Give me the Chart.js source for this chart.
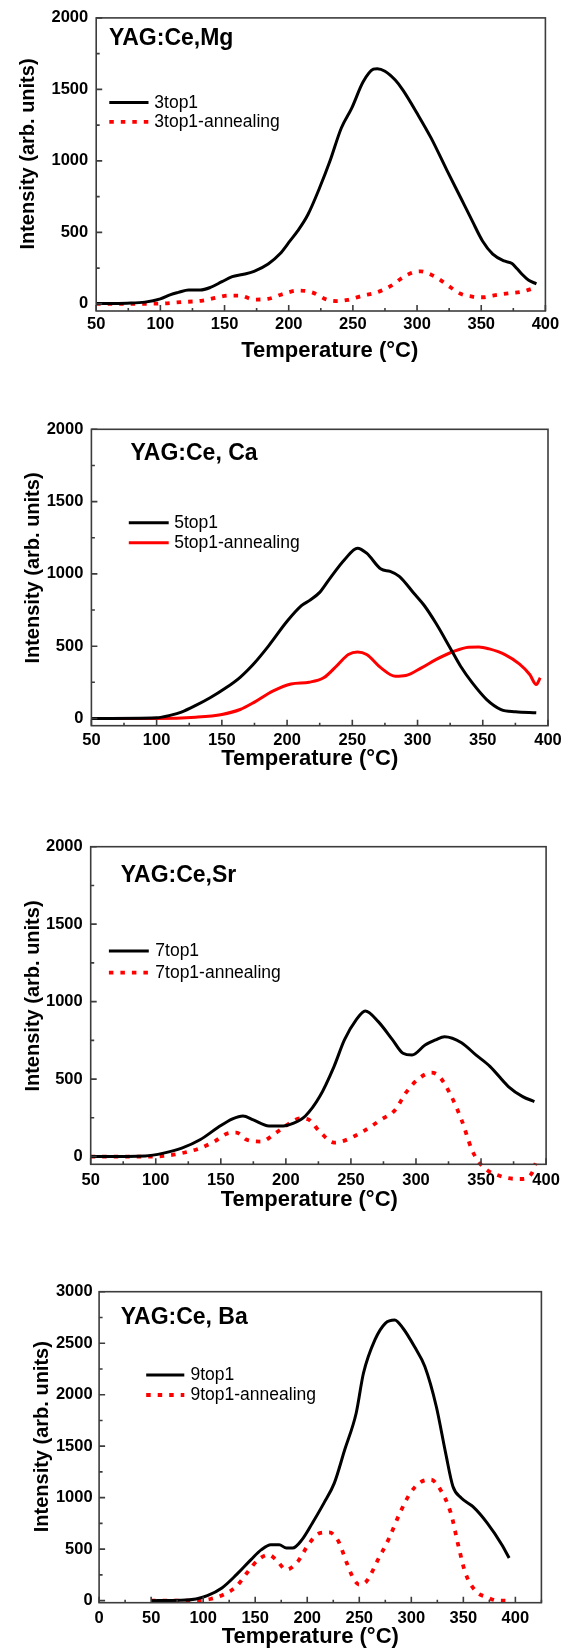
<!DOCTYPE html>
<html><head><meta charset="utf-8">
<script src="https://cdn.jsdelivr.net/npm/chart.js@4.4.1/dist/chart.umd.min.js"></script>
<style>
html,body{margin:0;padding:0;background:#fff;}
body{width:569px;height:1651px;position:relative;overflow:hidden;}
canvas{position:absolute;left:0;}
</style></head><body>
<canvas id="c1" width="569" height="385" style="top:0px;width:569px;height:385px"></canvas>
<canvas id="c2" width="569" height="390" style="top:395px;width:569px;height:390px"></canvas>
<canvas id="c3" width="569" height="420" style="top:810px;width:569px;height:420px"></canvas>
<canvas id="c4" width="569" height="411" style="top:1240px;width:569px;height:411px"></canvas>
<script>
// ---------- text ----------
const xTitleText = 'Temperature (°C)';
const yTitleText = 'Intensity (arb. units)';
const panelLabels = ['YAG:Ce,Mg', 'YAG:Ce, Ca', 'YAG:Ce,Sr', 'YAG:Ce, Ba'];
const seriesNames = [['3top1', '3top1-annealing'], ['5top1', '5top1-annealing'], ['7top1', '7top1-annealing'], ['9top1', '9top1-annealing']];

// ---------- tick values ----------
const xTicksA = [50, 75, 100, 125, 150, 175, 200, 225, 250, 275, 300, 325, 350, 375, 400];
const xTicksB = [0, 25, 50, 75, 100, 125, 150, 175, 200, 225, 250, 275, 300, 325, 350, 375, 400, 425];
const yTicksA = [0, 250, 500, 750, 1000, 1250, 1500, 1750, 2000];
const yTicksB = [0, 250, 500, 750, 1000, 1250, 1500, 1750, 2000, 2250, 2500, 2750, 3000];

// ---------- data: panel 1 (Mg) ----------
const p1BlackT = [50, 60, 74, 88, 100, 108, 114, 122, 131, 139, 148, 156, 164, 173, 184, 193, 201, 207, 215, 224, 232, 241, 249, 258, 266, 269, 275, 283, 289, 300, 311, 323, 334, 343, 351, 359, 368, 374, 378, 382, 387, 393];
const p1BlackI = [3, 3, 5, 12, 35, 65, 80, 97, 97, 115, 155, 190, 205, 227, 278, 348, 440, 510, 625, 810, 995, 1230, 1367, 1553, 1641, 1645, 1627, 1565, 1495, 1333, 1159, 939, 742, 580, 440, 348, 300, 282, 245, 205, 165, 140];
const p1RedT = [50, 74, 100, 116, 133, 145, 153, 162, 173, 184, 196, 207, 218, 230, 238, 246, 258, 269, 280, 289, 297, 303, 311, 317, 326, 334, 343, 351, 359, 371, 382, 393];
const p1RedI = [0, 0, 2, 12, 23, 46, 58, 58, 30, 35, 70, 93, 81, 28, 19, 28, 58, 81, 127, 185, 220, 227, 204, 174, 116, 70, 51, 46, 58, 74, 86, 116];

// ---------- data: panel 2 (Ca) ----------
const p2BlackT = [50, 100, 111, 119, 130, 141, 152, 164, 175, 186, 200, 211, 217, 225, 233, 244, 254, 261, 272, 279, 286, 297, 305, 314, 325, 333, 342, 353, 364, 375, 391];
const p2BlackI = [0, 5, 23, 44, 90, 143, 205, 285, 384, 504, 672, 780, 815, 872, 971, 1098, 1178, 1143, 1033, 1017, 983, 868, 783, 660, 488, 361, 246, 131, 62, 46, 39];
const p2RedT = [50, 100, 130, 150, 164, 175, 189, 203, 217, 228, 239, 247, 254, 261, 272, 283, 291, 303, 314, 328, 339, 347, 355, 367, 378, 386, 391, 394];
const p2RedI = [0, 0, 9, 28, 62, 113, 189, 239, 251, 281, 373, 442, 460, 442, 350, 292, 297, 350, 407, 465, 493, 495, 481, 442, 377, 304, 235, 281];

// ---------- data: panel 3 (Sr) ----------
const p3BlackT = [50, 92, 106, 120, 134, 148, 159, 167, 175, 187, 198, 206, 215, 226, 237, 245, 254, 261, 271, 282, 290, 297, 307, 315, 322, 335, 346, 357, 371, 382, 391];
const p3BlackI = [0, 4, 22, 54, 108, 189, 243, 262, 237, 198, 198, 215, 262, 387, 581, 753, 882, 940, 871, 753, 667, 656, 720, 753, 774, 735, 656, 581, 452, 387, 355];
const p3RedT = [50, 92, 106, 120, 134, 145, 156, 162, 170, 181, 192, 203, 211, 217, 226, 237, 245, 259, 273, 284, 292, 301, 312, 318, 326, 335, 343, 348, 355, 362, 371, 382, 389, 392];
const p3RedI = [0, 0, 4, 22, 54, 97, 151, 155, 108, 97, 151, 215, 247, 241, 161, 90, 103, 161, 237, 301, 409, 495, 542, 516, 409, 237, 43, -32, -90, -118, -140, -145, -108, -43];

// ---------- data: panel 4 (Ba) ----------
const p4BlackT = [50, 79, 93, 104, 118, 132, 146, 156, 165, 173, 180, 186, 195, 205, 216, 226, 236, 247, 254, 265, 275, 284, 292, 303, 313, 324, 333, 340, 348, 359, 373, 387, 394];
const p4BlackI = [0, 3, 16, 48, 123, 252, 398, 495, 543, 543, 511, 511, 592, 754, 947, 1141, 1465, 1820, 2208, 2532, 2693, 2725, 2645, 2467, 2273, 1885, 1432, 1109, 996, 915, 753, 543, 414];
const p4RedT = [50, 86, 107, 121, 132, 142, 153, 163, 170, 180, 191, 201, 212, 221, 230, 238, 245, 250, 257, 268, 278, 289, 299, 310, 319, 327, 338, 345, 352, 362, 373, 383, 394];
const p4RedI = [0, 0, 16, 65, 139, 268, 398, 446, 398, 301, 381, 543, 656, 663, 576, 365, 204, 155, 188, 398, 592, 850, 1044, 1157, 1174, 1093, 850, 543, 268, 91, 32, 0, 0];

// ---------- helpers ----------
const FONT = '"Liberation Sans", Arial, Helvetica, sans-serif';
const pts = (t, v) => t.map((x, i) => ({x: x, y: v[i]}));

const frameTicks = {
  id: 'frameTicks',
  afterDatasetsDraw(chart) {
    const ctx = chart.ctx, a = chart.chartArea;
    const xs = chart.scales.x, ys = chart.scales.y;
    ctx.save();
    ctx.strokeStyle = '#3c3c3c';
    ctx.lineWidth = 1.6;
    ctx.strokeRect(a.left, a.top, a.right - a.left, a.bottom - a.top);
    ctx.beginPath();
    xs.ticks.forEach(t => {
      const p = xs.getPixelForValue(t.value);
      const len = (t.value % 50 === 0) ? 6 : 3;
      ctx.moveTo(p, a.bottom); ctx.lineTo(p, a.bottom - len);
    });
    ys.ticks.forEach(t => {
      const p = ys.getPixelForValue(t.value);
      const len = (t.value % 500 === 0) ? 6 : 3.5;
      ctx.moveTo(a.left, p); ctx.lineTo(a.left + len, p);
    });
    ctx.stroke();
    ctx.restore();
  }
};

const annot = {
  id: 'annot',
  afterDraw(chart, args, o) {
    const ctx = chart.ctx, top = o.top;
    ctx.save();
    ctx.fillStyle = '#000';
    ctx.textBaseline = 'middle';
    ctx.textAlign = 'left';
    ctx.font = 'bold 23px ' + FONT;
    ctx.fillText(o.label, o.labelX, o.labelY - top);
    chart.data.datasets.forEach((ds, i) => {
      const y = o.legY - top + i * o.legDy;
      ctx.save();
      ctx.strokeStyle = ds.borderColor;
      ctx.lineWidth = ds.borderWidth;
      ctx.setLineDash(ds.borderDash || []);
      ctx.beginPath(); ctx.moveTo(o.legX1, y); ctx.lineTo(o.legX2, y); ctx.stroke();
      ctx.restore();
      ctx.font = '17.5px ' + FONT;
      ctx.fillText(ds.label, o.legTx, y + 0.5);
    });
    ctx.textAlign = 'center';
    ctx.font = 'bold 22px ' + FONT;
    ctx.fillText(xTitleText, o.xtX, o.xtY - top);
    ctx.translate(o.ytX, o.ytY - top);
    ctx.rotate(-Math.PI / 2);
    ctx.font = 'bold 20px ' + FONT;
    ctx.fillText(yTitleText, 0, 0);
    ctx.restore();
  }
};

function makeChart(id, L, datasets, xr, yr, xTickVals, yTickVals) {
  const canvas = document.getElementById(id);
  const H = canvas.height;
  return new Chart(canvas, {
    type: 'line',
    data: {datasets: datasets},
    plugins: [frameTicks, annot],
    options: {
      responsive: false,
      animation: false,
      events: [],
      layout: {padding: {left: 0, top: L.plotTop - L.top, right: 569 - L.plotRight, bottom: 0}},
      elements: {point: {radius: 0}, line: {cubicInterpolationMode: 'monotone', borderCapStyle: 'butt'}},
      scales: {
        x: {
          type: 'linear', min: xr[0], max: xr[1],
          afterBuildTicks: s => { s.ticks = xTickVals.map(v => ({value: v})); },
          afterFit: s => { s.height = H - (L.plotBottom - L.top); },
          grid: {display: false, drawTicks: false},
          border: {display: false},
          ticks: {
            autoSkip: false, maxRotation: 0, padding: L.xPad, color: '#000',
            font: {family: FONT, size: 16.5, weight: 'bold'},
            callback: v => (v % 50 === 0 ? String(v) : '')
          }
        },
        y: {
          type: 'linear', min: yr[0], max: yr[1],
          afterBuildTicks: s => { s.ticks = yTickVals.map(v => ({value: v})); },
          afterFit: s => { s.width = L.plotLeft; },
          grid: {display: false, drawTicks: false},
          border: {display: false},
          ticks: {
            autoSkip: false, padding: L.yPad, color: '#000',
            font: {family: FONT, size: 16.5, weight: 'bold'},
            callback: v => (v % 500 === 0 ? String(v) : '')
          }
        }
      },
      plugins: {
        legend: {display: false},
        tooltip: {enabled: false},
        annot: L.annot
      }
    }
  });
}

function blackDs(name, t, v) {
  return {label: name, data: pts(t, v), borderColor: '#000000', borderWidth: 3, fill: false};
}
function redDotDs(name, t, v, clip) {
  const d = {label: name, data: pts(t, v), borderColor: '#ff0000', borderWidth: 3.8, borderDash: [4.5, 7], fill: false};
  if (clip === false) d.clip = false;
  return d;
}
function redSolidDs(name, t, v) {
  return {label: name, data: pts(t, v), borderColor: '#ff0000', borderWidth: 3, fill: false};
}

// ---------- panel 1 ----------
makeChart('c1',
  {top: 0, plotTop: 15.7, plotBottom: 311, plotLeft: 96.2, plotRight: 545.4, xPad: 3.4, yPad: 8,
   annot: {top: 0, label: panelLabels[0], labelX: 109, labelY: 38.5,
     legX1: 109.3, legX2: 148.5, legTx: 154.3, legY: 102.5, legDy: 19.4,
     xtX: 329.7, xtY: 351.3, ytX: 28, ytY: 154}},
  [blackDs(seriesNames[0][0], p1BlackT, p1BlackI), redDotDs(seriesNames[0][1], p1RedT, p1RedI)],
  [50, 400], [-50, 2000], xTicksA, yTicksA);

// ---------- panel 2 ----------
makeChart('c2',
  {top: 395, plotTop: 429.3, plotBottom: 725.7, plotLeft: 91.4, plotRight: 548, xPad: 4.4, yPad: 8,
   annot: {top: 395, label: panelLabels[1], labelX: 130.6, labelY: 454,
     legX1: 128.8, legX2: 168.7, legTx: 174.2, legY: 522.7, legDy: 20,
     xtX: 309.7, xtY: 758.5, ytX: 33.7, ytY: 568}},
  [blackDs(seriesNames[1][0], p2BlackT, p2BlackI), redSolidDs(seriesNames[1][1], p2RedT, p2RedI)],
  [50, 400], [-50, 2000], xTicksA, yTicksA);

// ---------- panel 3 ----------
makeChart('c3',
  {top: 810, plotTop: 846.7, plotBottom: 1164.3, plotLeft: 90.7, plotRight: 546.1, xPad: 5.8, yPad: 8,
   annot: {top: 810, label: panelLabels[2], labelX: 120.8, labelY: 875.3,
     legX1: 108.9, legX2: 148.8, legTx: 155.3, legY: 951, legDy: 21.7,
     xtX: 309.3, xtY: 1200, ytX: 33.7, ytY: 996}},
  [blackDs(seriesNames[2][0], p3BlackT, p3BlackI), redDotDs(seriesNames[2][1], p3RedT, p3RedI, false)],
  [50, 400], [-50, 2000], xTicksA, yTicksA);

// ---------- panel 4 ----------
makeChart('c4',
  {top: 1240, plotTop: 1291.7, plotBottom: 1602.7, plotLeft: 99.1, plotRight: 541.4, xPad: 5.7, yPad: 6.5,
   annot: {top: 1240, label: panelLabels[3], labelX: 120.8, labelY: 1318,
     legX1: 146.2, legX2: 184.3, legTx: 190.5, legY: 1375, legDy: 20,
     xtX: 310.3, xtY: 1636.5, ytX: 42.6, ytY: 1436.7}},
  [blackDs(seriesNames[3][0], p4BlackT, p4BlackI), redDotDs(seriesNames[3][1], p4RedT, p4RedI)],
  [0, 425], [-20, 3000], xTicksB, yTicksB);
</script>
</body></html>
